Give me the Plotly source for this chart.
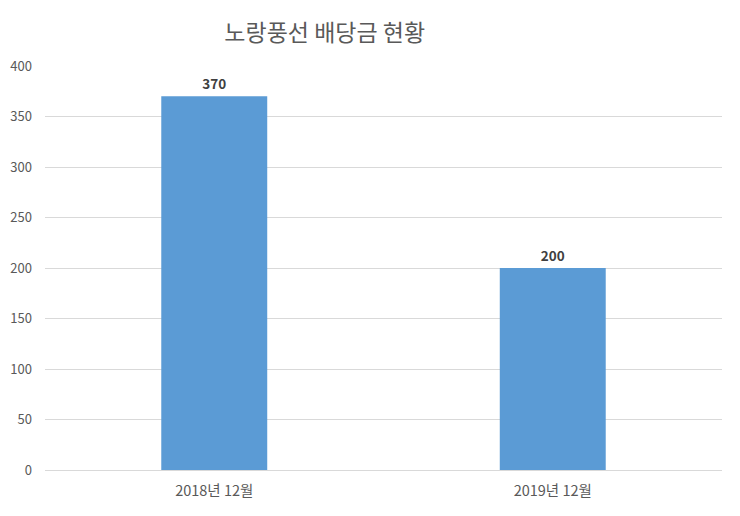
import plotly.graph_objects as go

periods = ["2018년 12월", "2019년 12월"]
dividends = [370, 200]
y_ticks = [0, 50, 100, 150, 200, 250, 300, 350, 400]

font_name = "Noto Sans CJK KR"

bars = go.Bar(
    x=periods,
    y=dividends,
    text=[str(v) for v in dividends],
    textposition="outside",
    textfont=dict(family=font_name, size=13.5, color="#404040", weight="bold"),
    marker=dict(color="#5B9BD5", line=dict(width=0)),
    cliponaxis=False,
    width=0.313,
)

layout = go.Layout(
    width=740,
    height=516,
    paper_bgcolor="white",
    plot_bgcolor="white",
    margin=dict(l=37, r=26, t=58, b=54),
    title=dict(
        text="노랑풍선 배당금 현황",
        x=0.428, xanchor="center",
        y=0.952, yanchor="middle",
        font=dict(family=font_name, size=23, color="#595959"),
    ),
    font=dict(family=font_name, size=13, color="#595959"),
    showlegend=False,
    xaxis=dict(
        showgrid=False,
        showline=True,
        linecolor="#D9D9D9",
        linewidth=1,
        ticks="",
        automargin=False,
        ticklabelstandoff=8,
        tickfont=dict(size=14.5, color="#595959"),
    ),
    yaxis=dict(
        range=[0, 400],
        tickvals=y_ticks,
        showgrid=True,
        gridcolor="#D9D9D9",
        gridwidth=1,
        zeroline=False,
        showline=False,
        ticks="",
        automargin=False,
        ticklabelstandoff=12,
        tickfont=dict(size=13, color="#595959"),
    ),
)

fig = go.Figure(data=[bars], layout=layout)
fig.write_html("out.html")
